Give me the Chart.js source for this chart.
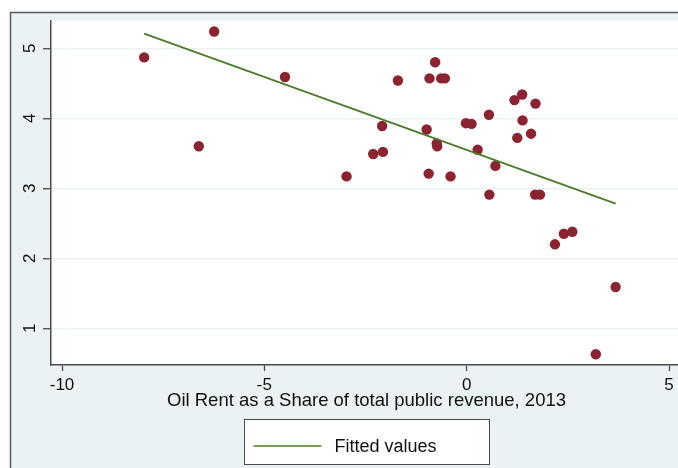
<!DOCTYPE html>
<html>
<head>
<meta charset="utf-8">
<script src="https://cdn.jsdelivr.net/npm/chart.js@4/dist/chart.umd.min.js"></script>
<style>
  html, body { margin: 0; padding: 0; background: #ffffff; overflow: hidden; }
  #wrap { width: 678px; height: 468px; overflow: hidden; position: relative; }
  canvas { display: block; }
</style>
</head>
<body>
<div id="wrap"><canvas id="c" width="700" height="468"></canvas></div>
<script>
// Oil rent share (x) against the outcome index (y), one point per country
const oilRent = [-7.97, -6.24, -4.49, -6.62, -0.78, -1.70, -0.92, -0.63, -0.54, -2.09,
                 -0.99, -0.02, -0.74, -0.73, -2.31, -2.07, -2.97, -0.94, -0.40, 1.37,
                 1.18, 1.70, 0.55, 0.12, 1.38, 1.25, 1.59, 0.27, 0.71, 0.56,
                 1.69, 1.81, 2.18, 2.40, 2.61, 3.68, 3.19];
const outcome = [4.87, 5.24, 4.59, 3.60, 4.80, 4.54, 4.57, 4.57, 4.57, 3.89,
                 3.84, 3.93, 3.64, 3.60, 3.49, 3.52, 3.17, 3.21, 3.17, 4.34,
                 4.26, 4.21, 4.05, 3.92, 3.97, 3.72, 3.78, 3.55, 3.32, 2.91,
                 2.91, 2.91, 2.20, 2.35, 2.38, 1.59, 0.63];

// Linear fit, end points
const fitX = [-7.97, 3.68];
const fitY = [5.21, 2.78];

const xTicks = [-10, -5, 0, 5];
const yTicks = [1, 2, 3, 4, 5];

const xTitle = 'Oil Rent as a Share of total public revenue, 2013';
const fitLabel = 'Fitted values';

const BG = 'rgb(234,242,243)';
const AXIS = '#4a4a4a';
const FONT = '"Liberation Sans", Arial, Helvetica, sans-serif';

const scatterPts = oilRent.map((x, i) => ({ x: x, y: outcome[i] }));
const fitPts = fitX.map((x, i) => ({ x: x, y: fitY[i] }));

// Background panels, outer frame and white plot region
const framePlugin = {
  id: 'frame',
  beforeDraw(chart) {
    const { ctx, width, height, chartArea: a } = chart;
    ctx.save();
    ctx.fillStyle = '#ffffff';
    ctx.fillRect(0, 0, width, height);
    ctx.fillStyle = BG;
    ctx.fillRect(10, 12, width - 10, height - 12);
    ctx.strokeStyle = '#5a5a5a';
    ctx.lineWidth = 1.5;
    ctx.beginPath();
    ctx.moveTo(10.5, height + 2);
    ctx.lineTo(10.5, 12.5);
    ctx.lineTo(width + 2, 12.5);
    ctx.stroke();
    ctx.fillStyle = '#ffffff';
    ctx.fillRect(a.left, a.top, a.right - a.left, a.bottom - a.top);
    ctx.restore();
  }
};

// Vertical (rotated) y tick labels and the boxed legend
const labelsPlugin = {
  id: 'labels',
  afterDraw(chart) {
    const { ctx, chartArea: a } = chart;
    const ys = chart.scales.y;
    ctx.save();
    ctx.fillStyle = '#111111';
    ctx.font = '17px ' + FONT;
    ctx.textAlign = 'center';
    ctx.textBaseline = 'middle';
    yTicks.forEach(v => {
      const py = ys.getPixelForValue(v);
      ctx.save();
      ctx.translate(30.5, py);
      ctx.rotate(-Math.PI / 2);
      ctx.fillText(String(v), 0, 0);
      ctx.restore();
    });

    // legend box
    const ds = chart.data.datasets.find(d => d.label === fitLabel);
    const cx = (a.left + a.right) / 2;
    const boxW = 245, boxH = 45;
    const bx = Math.round(cx - boxW / 2) + 0.5, by = 419.5;
    ctx.fillStyle = '#ffffff';
    ctx.fillRect(bx, by, boxW, boxH);
    ctx.strokeStyle = '#4a4a4a';
    ctx.lineWidth = 1;
    ctx.strokeRect(bx, by, boxW, boxH);
    ctx.strokeStyle = ds.borderColor;
    ctx.lineWidth = 1.6;
    ctx.beginPath();
    ctx.moveTo(bx + 9, by + 26.5);
    ctx.lineTo(bx + 77, by + 26.5);
    ctx.stroke();
    ctx.fillStyle = '#111111';
    ctx.font = '18px ' + FONT;
    ctx.textAlign = 'left';
    ctx.textBaseline = 'middle';
    ctx.fillText(ds.label, bx + 90, by + 28);
    ctx.restore();
  }
};

new Chart(document.getElementById('c'), {
  type: 'scatter',
  data: {
    datasets: [
      {
        label: fitLabel,
        data: fitPts,
        showLine: true,
        borderColor: '#4b7c2b',
        backgroundColor: '#4b7c2b',
        borderWidth: 1.8,
        pointRadius: 0,
        pointHoverRadius: 0,
        order: 0
      },
      {
        label: 'Observed',
        data: scatterPts,
        backgroundColor: '#8b2430',
        borderColor: '#8b2430',
        borderWidth: 0,
        pointRadius: 5.2,
        pointHoverRadius: 5.2,
        order: 1
      }
    ]
  },
  options: {
    responsive: false,
    animation: false,
    devicePixelRatio: 1,
    layout: { padding: { left: 10, right: 18, top: 20.7, bottom: 56 } },
    plugins: {
      legend: { display: false },
      tooltip: { enabled: false }
    },
    scales: {
      x: {
        type: 'linear',
        min: -10.272,
        max: 5.32,
        afterBuildTicks: s => { s.ticks = xTicks.map(v => ({ value: v })); },
        afterFit: s => { s.height = 47; },
        grid: {
          drawOnChartArea: false,
          drawTicks: true,
          tickLength: 6,
          tickColor: AXIS,
          tickWidth: 1.3
        },
        border: { display: true, color: AXIS, width: 1.5 },
        ticks: {
          color: '#111111',
          font: { family: FONT, size: 17 },
          padding: 4,
          maxRotation: 0,
          callback: v => String(v)
        },
        title: {
          display: true,
          text: xTitle,
          color: '#111111',
          font: { family: FONT, size: 18.5 },
          padding: { top: 0, bottom: 0 }
        }
      },
      y: {
        type: 'linear',
        min: 0.476,
        max: 5.394,
        afterBuildTicks: s => { s.ticks = yTicks.map(v => ({ value: v })); },
        afterFit: s => { s.width = 41; },
        grid: {
          color: BG,
          lineWidth: 1.5,
          drawTicks: true,
          tickLength: 8,
          tickColor: AXIS,
          tickWidth: 1.3
        },
        border: { display: true, color: AXIS, width: 1.5 },
        ticks: { display: false }
      }
    }
  },
  plugins: [framePlugin, labelsPlugin]
});
</script>
</body>
</html>
